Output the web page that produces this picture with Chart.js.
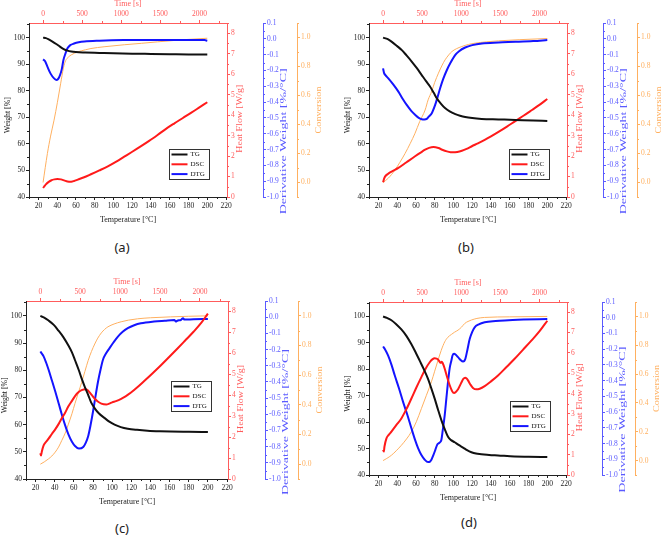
<!DOCTYPE html>
<html>
<head>
<meta charset="utf-8">
<title>TG / DSC / DTG</title>
<script src="https://cdn.jsdelivr.net/npm/chart.js@4.4.1/dist/chart.umd.min.js"></script>
<style>
  body { margin: 0; width: 661px; height: 535px; overflow: hidden; position: relative; background: #fff; }
  canvas { position: absolute; }
  .tag { position: absolute; font-family: "Noto Sans", sans-serif; font-size: 13px; color: #222; transform: translate(-50%, -50%); }
</style>
</head>
<body>
<div class="tag" style="left:122px;top:247px">(a)</div>
<div class="tag" style="left:466px;top:247px">(b)</div>
<div class="tag" style="left:122px;top:528px">(c)</div>
<div class="tag" style="left:469px;top:522px">(d)</div>
<script>
// ticks
const tempTicks = [20, 40, 60, 80, 100, 120, 140, 160, 180, 200, 220];
const timeTicks = [0, 500, 1000, 1500, 2000];
const weightTicks = [40, 50, 60, 70, 80, 90, 100];
const heatTicks = [0, 1, 2, 3, 4, 5, 6, 7, 8];
const dtgTicks = [0.1, 0.0, -0.1, -0.2, -0.3, -0.4, -0.5, -0.6, -0.7, -0.8, -0.9, -1.0];
const convTicks = [0.0, 0.2, 0.4, 0.6, 0.8, 1.0];
const legendLabels = ['TG', 'DSC', 'DTG'];
const heatingRate = 5; // °C/min, top time axis

// (a)  [temperature, value]
const tgA = [[25,100],[28,99.8],[31,99.3],[35,98.5],[39,97.6],[43,96.6],[47,95.7],[51,95.1],[55,94.75],[60,94.55],[70,94.4],[85,94.25],[100,94.1],[120,93.95],[140,93.85],[160,93.75],[180,93.65],[200,93.6]];
const dscA = [[25,0.44],[26,0.5],[28,0.62],[31,0.74],[34,0.82],[37,0.86],[40.3,0.88],[44,0.86],[48,0.8],[51,0.76],[55,0.75],[58,0.78],[62,0.85],[68,0.95],[76,1.11],[85,1.3],[94,1.5],[103,1.73],[111.5,1.97],[120,2.21],[129,2.47],[138,2.74],[147,3.03],[156,3.33],[165,3.6],[174,3.86],[183,4.12],[192,4.39],[200,4.63]];
const dtgA = [[25,-0.13],[27,-0.14],[29.6,-0.176],[33,-0.22],[36.7,-0.25],[39.6,-0.26],[41.5,-0.25],[43.1,-0.229],[45,-0.19],[46.7,-0.134],[49,-0.09],[51,-0.06],[54,-0.04],[58,-0.03],[63,-0.022],[69,-0.017],[85,-0.012],[111,-0.008],[150,-0.007],[197,-0.008],[200,-0.012]];
const convA = [[25,0],[29.6,0.2],[33,0.32],[36.7,0.43],[40.2,0.55],[43.8,0.685],[46.7,0.79],[49,0.84],[52,0.865],[55,0.88],[61.6,0.9],[70,0.915],[76,0.924],[90,0.936],[111.5,0.95],[130,0.96],[147,0.97],[175,0.985],[200,0.995]];

// (b)
const tgB = [[25,100],[30,99.4],[34,98.5],[40,96.8],[45,95.3],[50,93.3],[55.5,91],[61,88.5],[66,86],[71,83.5],[75,81.6],[79,79.2],[82.2,77.2],[87,75],[91,73.5],[96,72.2],[102,71.2],[107,70.6],[112.5,70.1],[120,69.7],[130,69.4],[148,69.2],[166,69.0],[185,68.8],[200,68.6]];
const dscB = [[25,0.72],[26.4,0.93],[28,1.05],[30.6,1.14],[35,1.26],[41.3,1.42],[50,1.7],[59.1,1.99],[65,2.17],[69.8,2.31],[74,2.4],[78.7,2.44],[84,2.39],[88,2.31],[93,2.23],[97,2.19],[100,2.18],[104,2.2],[109,2.26],[114,2.35],[119.6,2.48],[126,2.62],[133.8,2.8],[140,2.96],[148,3.18],[157,3.44],[165.9,3.71],[175,3.98],[183.7,4.25],[192,4.51],[200,4.79]];
const dtgB = [[25,-0.187],[26,-0.215],[27.5,-0.23],[30.6,-0.25],[36,-0.29],[41.3,-0.334],[46,-0.38],[50.2,-0.418],[55,-0.455],[59.1,-0.48],[63,-0.5],[66.2,-0.508],[69,-0.51],[71.6,-0.506],[74,-0.49],[76.9,-0.47],[80.5,-0.418],[83,-0.37],[85.8,-0.313],[89,-0.255],[93,-0.197],[97,-0.15],[101.8,-0.103],[106,-0.078],[112.5,-0.055],[120,-0.04],[130.3,-0.029],[148,-0.023],[166,-0.019],[185,-0.014],[200,-0.008]];
const convB = [[25,0],[30.6,0.03],[34,0.055],[37.8,0.087],[43,0.14],[48.4,0.2],[54,0.27],[59.1,0.34],[64,0.42],[69.8,0.5],[73,0.57],[76.9,0.63],[80,0.69],[84,0.754],[88,0.81],[91.1,0.846],[95,0.88],[98.3,0.903],[103,0.922],[109,0.938],[116,0.952],[123.2,0.961],[135,0.97],[148,0.977],[170,0.985],[200,0.993]];

// (c)
const tgC = [[25,100],[29,99.4],[33.6,98.3],[39,96.7],[43.9,94.6],[49,92.2],[54.3,89.1],[58,86.6],[61.2,83.7],[65,80.2],[68.1,77],[71.5,73.8],[75,70.9],[78,68.2],[81.8,66],[86,64.2],[92.2,62.4],[97,61.1],[102.5,60],[109,59.1],[116.3,58.5],[126,58.1],[137,57.8],[150,57.6],[161,57.5],[180,57.4],[200,57.3]];
const dscC = [[25,1.23],[25.7,1.12],[26.5,1.3],[28.4,1.6],[31,1.78],[33.6,1.93],[37,2.15],[40.5,2.37],[44,2.62],[47.4,2.9],[51,3.18],[54.3,3.47],[58,3.73],[61.2,3.96],[65,4.15],[68.1,4.24],[72.2,4.29],[74.5,4.24],[76.7,4.12],[79,3.99],[81.8,3.83],[85,3.7],[88.7,3.6],[93.9,3.56],[97,3.6],[100,3.66],[104,3.72],[109.4,3.83],[114,3.95],[119.7,4.13],[126,4.37],[133.5,4.68],[142,5.04],[150.7,5.42],[159,5.8],[168,6.22],[176,6.6],[185,7.03],[193,7.45],[200,7.9]];
const dtgC = [[25,-0.212],[26.5,-0.225],[28.4,-0.242],[31,-0.28],[33.6,-0.325],[37,-0.39],[40.5,-0.458],[44,-0.53],[47.4,-0.601],[51,-0.67],[54.3,-0.724],[58,-0.77],[61.2,-0.796],[65.3,-0.812],[69.8,-0.802],[72.5,-0.775],[75,-0.734],[77.5,-0.665],[80.1,-0.58],[82.7,-0.485],[85.3,-0.396],[88,-0.32],[90.4,-0.263],[93.5,-0.225],[97.3,-0.191],[101.5,-0.155],[106,-0.12],[111,-0.09],[116.3,-0.068],[123,-0.05],[130,-0.038],[143.8,-0.027],[155,-0.022],[165,-0.018],[166.5,-0.027],[168,-0.022],[172,-0.016],[174,-0.006],[175.5,-0.015],[185,-0.013],[200,-0.011]];
const convC = [[25,0],[29,0.015],[33.6,0.036],[37,0.055],[40.5,0.081],[44,0.115],[47.4,0.16],[51,0.21],[54.3,0.27],[58,0.34],[61.2,0.41],[64.6,0.48],[68.1,0.55],[71.5,0.625],[75,0.7],[78.4,0.76],[81.8,0.81],[85,0.85],[88.7,0.885],[92,0.908],[95.6,0.926],[102,0.945],[109.4,0.96],[117,0.971],[126.6,0.98],[140,0.987],[161,0.993],[180,0.997],[200,1.0]];

// (d)
const tgD = [[25,100],[29,99.5],[33.9,98.6],[39,97.1],[44.5,95.1],[50,92.6],[55.2,89.5],[60,86.2],[64,83.3],[68.5,80],[72.9,76.4],[76.5,72.7],[80,68.9],[83.5,64.8],[87.1,60.8],[90.7,57.4],[94.2,54.5],[97.5,53.2],[101.3,52.4],[105.5,51.4],[110.2,50.4],[114.5,49.4],[119.1,48.6],[124,48.1],[129.7,47.9],[138,47.6],[147.5,47.4],[165,47.0],[180,46.9],[200,46.8]];
const dscD = [[25,1.24],[25.8,1.15],[26.5,1.4],[28.6,1.8],[31,1.97],[33.9,2.13],[39,2.45],[44.5,2.78],[50,3.25],[55.2,3.76],[60.5,4.3],[65.8,4.81],[70,5.2],[74.7,5.54],[77.5,5.68],[80,5.74],[82,5.72],[83.6,5.67],[85.5,5.55],[86.4,5.51],[87.5,5.56],[88.5,5.5],[90.7,5.22],[93,4.85],[96,4.41],[98.5,4.13],[100.6,4.03],[102.5,4.08],[104.9,4.21],[108,4.5],[110.5,4.72],[112.5,4.78],[114,4.74],[115.5,4.65],[118,4.45],[120.8,4.28],[124.4,4.21],[128,4.24],[133.3,4.37],[140,4.6],[147.5,4.89],[156,5.28],[165.2,5.71],[174,6.15],[183,6.6],[192,7.08],[200,7.58]];
const dtgD = [[25,-0.183],[27,-0.2],[30.3,-0.24],[34,-0.3],[37.4,-0.366],[42,-0.45],[46.3,-0.535],[51,-0.62],[55.2,-0.703],[59,-0.775],[62.3,-0.829],[66,-0.875],[69.4,-0.903],[72.9,-0.918],[75,-0.915],[76.5,-0.903],[78.5,-0.875],[80.7,-0.84],[82.5,-0.81],[84.3,-0.798],[86,-0.79],[87.1,-0.777],[88.5,-0.72],[90.7,-0.619],[92.5,-0.51],[94.2,-0.408],[96,-0.32],[97.8,-0.272],[99,-0.24],[100.6,-0.229],[102.5,-0.235],[104.9,-0.251],[107.5,-0.268],[110.2,-0.278],[111.5,-0.275],[112.7,-0.261],[115,-0.2],[117.3,-0.135],[120,-0.09],[122.6,-0.061],[127,-0.042],[133.3,-0.029],[145,-0.021],[154.6,-0.017],[175,-0.012],[200,-0.008]];
const convD = [[25,0],[29,0.015],[33.9,0.037],[39,0.068],[44.5,0.106],[50,0.15],[55.2,0.2],[60.5,0.27],[65.8,0.36],[71,0.45],[76.5,0.546],[80,0.62],[83.6,0.697],[87,0.765],[90.7,0.824],[94,0.855],[97.8,0.875],[101,0.89],[104.9,0.905],[108.5,0.925],[112,0.951],[115.5,0.965],[119.1,0.975],[125,0.986],[133.3,0.993],[160,0.997],[200,1.0]];

// colours
const cBlack = '#111111';
const cRed = '#ff1a1a';
const cBlue = '#1414ff';
const cOrange = '#ffb060';
const axRed = '#ff5c5c';
const axBlue = '#5a5aff';

// placement of each panel on the page (page pixels)
const panels = [
    { series: [tgA, dscA, dtgA, convA], L: 0,   T: 0,   area: [29, 227, 23, 197],   dtgX: 263, convX: 297, R: 330, legend: [0.707, 0.724] },
    { series: [tgB, dscB, dtgB, convB], L: 340, T: 0,   area: [369, 567, 23, 197],  dtgX: 603, convX: 637, R: 671, legend: [0.707, 0.724] },
    { series: [tgC, dscC, dtgC, convC], L: -3,  T: 278, area: [26, 228, 301, 479],  dtgX: 265, convX: 298, R: 330, legend: [0.72, 0.45] },
    { series: [tgD, dscD, dtgD, convD], L: 340, T: 279, area: [369, 567, 302, 475], dtgX: 602, convX: 635, R: 671, legend: [0.713, 0.572] }
];

const serif = (size, lh) => ({ family: 'Liberation Serif', size: size, lineHeight: lh || 1.2 });

// small ticks between the labelled ones
const minorTicks = {
    id: 'minorTicks',
    afterDraw(chart) {
        const ctx = chart.ctx;
        Object.values(chart.scales).forEach(scale => {
            const vals = scale.ticks.map(t => t.value);
            if (vals.length < 2) return;
            const step = vals[1] - vals[0];
            const minors = [vals[0] - step / 2, ...vals.map(v => v + step / 2)]
                .filter(v => v >= scale.min && v <= scale.max);
            ctx.save();
            ctx.strokeStyle = scale.options.border.color;
            ctx.lineWidth = 1;
            ctx.beginPath();
            minors.forEach(v => {
                const p = Math.round(scale.getPixelForValue(v)) + 0.5;
                if (scale.position === 'left') { ctx.moveTo(scale.right, p); ctx.lineTo(scale.right - 2, p); }
                if (scale.position === 'right') { ctx.moveTo(scale.left, p); ctx.lineTo(scale.left + 2, p); }
                if (scale.position === 'top') { ctx.moveTo(p, scale.bottom); ctx.lineTo(p, scale.bottom - 2); }
                if (scale.position === 'bottom') { ctx.moveTo(p, scale.top); ctx.lineTo(p, scale.top + 2); }
            });
            ctx.stroke();
            ctx.restore();
        });
    }
};

// vertical axis titles (all read bottom to top, like Origin)
const sideTitles = {
    id: 'sideTitles',
    afterDraw(chart) {
        const ca = chart.chartArea, s = chart.scales, ctx = chart.ctx;
        const items = [
            ['Weight [%]', ca.left - 21, 0.53, 36, cBlack],
            ['Heat Flow [W/g]', ca.right + 13, 0.55, 68, axRed],
            ['Derivative Weight [%/°C]', s.yDtg.left + 21, 0.68, 146, axBlue],
            ['Conversion', s.yConv.left + 22, 0.5, 47, cOrange]
        ];
        ctx.save();
        ctx.font = '8.5px "Liberation Serif"';
        ctx.textAlign = 'center';
        ctx.textBaseline = 'middle';
        items.forEach(([text, x, rel, len, color]) => {
            const w = ctx.measureText(text).width;
            ctx.save();
            ctx.translate(x, ca.top + rel * ca.height);
            ctx.rotate(-Math.PI / 2);
            ctx.scale(len / w, 1);
            ctx.fillStyle = color;
            ctx.fillText(text, 0, 0);
            ctx.restore();
        });
        ctx.restore();
    }
};

// framed legend inside the plot
const boxLegend = {
    id: 'boxLegend',
    afterDatasetsDraw(chart, args, opts) {
        const ca = chart.chartArea, ctx = chart.ctx;
        const x0 = Math.round(ca.left + opts.x * ca.width) + 0.5;
        const y0 = Math.round(ca.top + opts.y * ca.height) + 0.5;
        ctx.save();
        ctx.fillStyle = '#fff';
        ctx.strokeStyle = '#333';
        ctx.lineWidth = 1;
        ctx.fillRect(x0, y0, 40, 30);
        ctx.strokeRect(x0, y0, 40, 30);
        ctx.font = '7px "Liberation Serif"';
        ctx.textBaseline = 'middle';
        legendLabels.forEach((label, i) => {
            const y = y0 + 5 + i * 9.8;
            ctx.strokeStyle = chart.data.datasets[i].borderColor;
            ctx.lineWidth = 2;
            ctx.beginPath();
            ctx.moveTo(x0 + 2, y);
            ctx.lineTo(x0 + 18, y);
            ctx.stroke();
            ctx.fillStyle = cBlack;
            ctx.fillText(label, x0 + 21, y);
        });
        ctx.restore();
    }
};

function makeScale(pos, min, max, tickVals, color, size, fmt, extra) {
    return Object.assign({
        type: 'linear', position: pos, min: min, max: max,
        grid: { drawOnChartArea: false, drawTicks: true, tickLength: 3, color: color },
        border: { display: true, color: color, width: 1 },
        ticks: { color: color, font: serif(7.5), padding: 1, autoSkip: false, maxRotation: 0, callback: fmt },
        afterBuildTicks: s => { s.ticks = tickVals.map(v => ({ value: v })); },
        afterFit: s => { if (s.isHorizontal()) s.height = size; else s.width = size; }
    }, extra || {});
}

function line(points, color, width, axisId) {
    return {
        data: points.map(([x, y]) => ({ x: x, y: y })),
        borderColor: color, borderWidth: width, pointRadius: 0,
        fill: false, cubicInterpolationMode: 'monotone', yAxisID: axisId
    };
}

const tMin = 10, tMax = 221;

panels.forEach(p => {
    const [left, right, top, bottom] = p.area;
    const canvas = document.createElement('canvas');
    canvas.width = p.R - p.L;
    canvas.height = bottom + 43 - p.T;
    canvas.style.left = p.L + 'px';
    canvas.style.top = p.T + 'px';
    document.body.appendChild(canvas);

    const [tg, dsc, dtg, conv] = p.series;
    const int = v => String(v);
    const dec = v => Number(v).toFixed(1);

    new Chart(canvas.getContext('2d'), {
        type: 'line',
        data: {
            datasets: [
                line(tg, cBlack, 2, 'y'),
                line(dsc, cRed, 2, 'yHeat'),
                line(dtg, cBlue, 2, 'yDtg'),
                line(conv, cOrange, 1, 'yConv')
            ]
        },
        options: {
            responsive: false,
            animation: false,
            layout: { padding: 0 },
            plugins: {
                legend: { display: false },
                tooltip: { enabled: false },
                boxLegend: { x: p.legend[0], y: p.legend[1] }
            },
            scales: {
                x: makeScale('bottom', tMin, tMax, tempTicks, '#222', 43, int, {
                    ticks: { color: '#222', font: serif(7.5), padding: 2, autoSkip: false, maxRotation: 0, callback: int },
                    title: { display: true, text: 'Temperature [°C]', color: '#222', font: serif(8), padding: { top: 0, bottom: 15 } }
                }),
                x2: makeScale('top', (tMin - 25) * 60 / heatingRate, (tMax - 25) * 60 / heatingRate, timeTicks, axRed, top - p.T, int, {
                    title: { display: true, text: 'Time [s]', color: axRed, font: serif(8, 1), padding: 0 }
                }),
                y: makeScale('left', 40, 105.5, weightTicks, '#222', left - p.L, int),
                yHeat: makeScale('right', 0, 8.5, heatTicks, axRed, p.dtgX - right, int, { weight: 0 }),
                yDtg: makeScale('right', -1.0, 0.1, dtgTicks, axBlue, p.convX - p.dtgX, dec, { weight: 1 }),
                yConv: makeScale('right', -0.1, 1.1, convTicks, cOrange, p.R - p.convX, dec, { weight: 2 })
            }
        },
        plugins: [minorTicks, sideTitles, boxLegend]
    });
});
</script>
</body>
</html>
